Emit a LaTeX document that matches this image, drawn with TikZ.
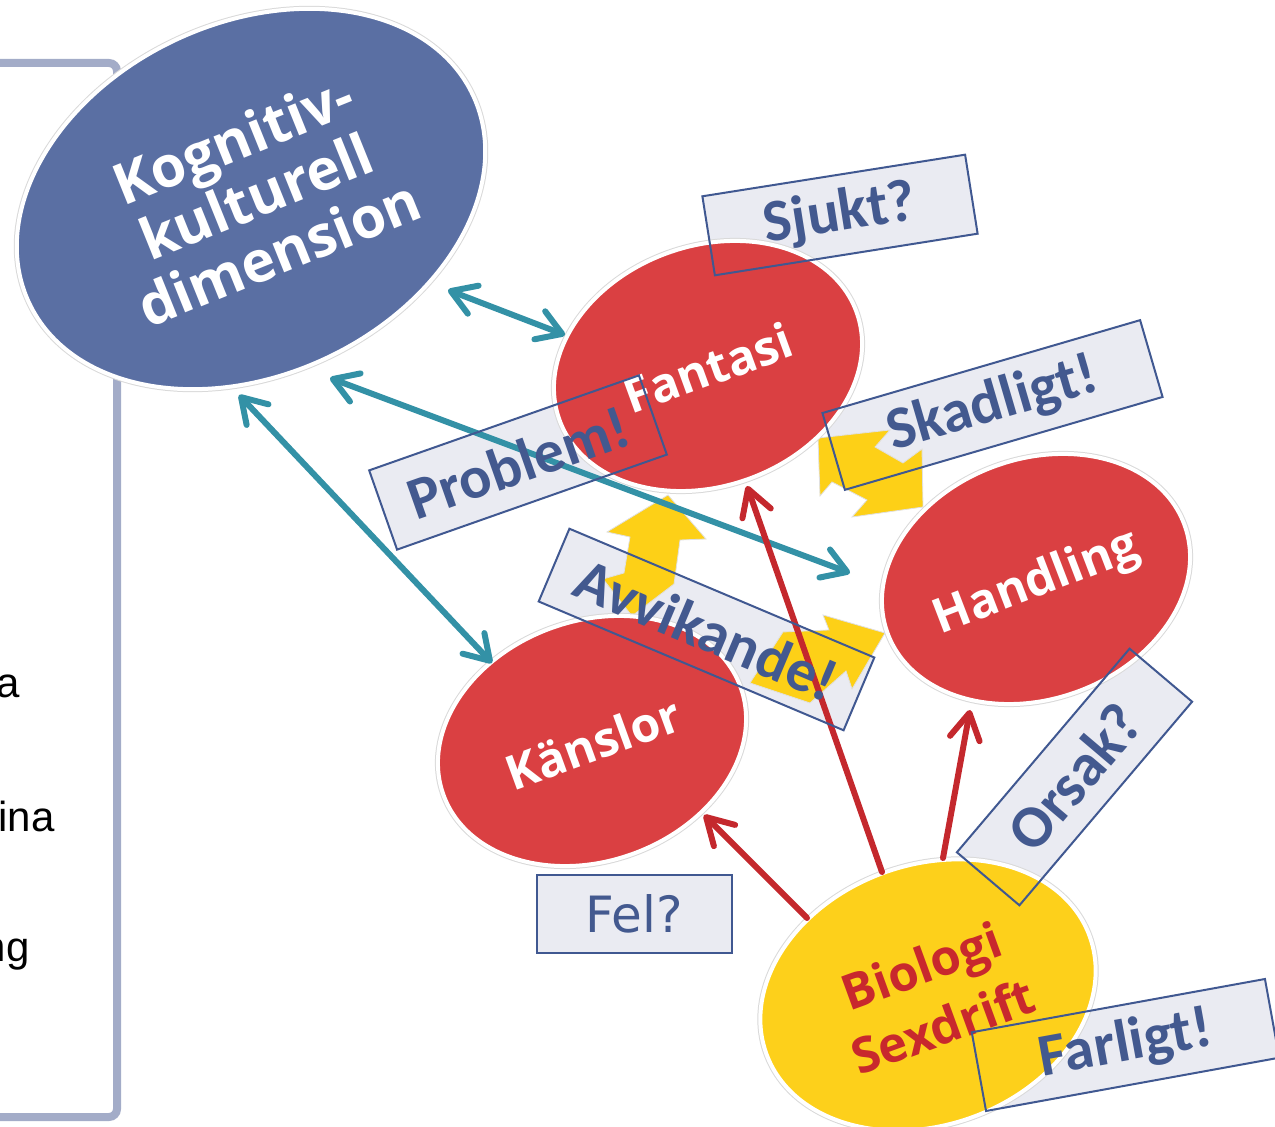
\documentclass[tikz,border=0pt]{standalone}
\usepackage{fontspec}
\usetikzlibrary{arrows.meta,shapes.geometric}
\newfontfamily\ellfont{Open Sans}
\newfontfamily\boxfont{Carlito}
\newfontfamily\felfont{DejaVu Sans}
\newfontfamily\sidefont{Liberation Sans}
\definecolor{kogblue}{HTML}{5A6FA3}
\definecolor{ellred}{HTML}{DA4042}
\definecolor{bioyellow}{HTML}{FDD01B}
\definecolor{tealc}{HTML}{3391A6}
\definecolor{arrred}{HTML}{C4282D}
\definecolor{boxfill}{HTML}{EAEBF2}
\definecolor{boxline}{HTML}{405891}
\definecolor{boxtext}{HTML}{43598F}
\definecolor{framec}{HTML}{A3ACC8}
\definecolor{biotext}{HTML}{C8282D}
\definecolor{yarr}{HTML}{FDD017}
\begin{document}
\begin{tikzpicture}[x=0.5pt,y=-0.5pt,
  ell/.style={ellipse, inner sep=0pt, draw=white, line width=2pt,
    preaction={draw=black!15, line width=3pt}},
  elltext/.style={inner sep=0pt, align=center, text=white,
    font=\ellfont\bfseries\fontsize{24}{24}\selectfont},
  boxbg/.style={rectangle, inner sep=0pt, fill=boxfill, draw=none},
  boxfg/.style={rectangle, inner sep=0pt, draw=boxline, line width=1pt, text=boxtext,
    font=\boxfont\bfseries\fontsize{30}{30}\selectfont},
  sidetext/.style={inner sep=0pt, anchor=base east, font=\sidefont\fontsize{21}{21}\selectfont},
  tealarrow/.style={draw=tealc, line width=3pt, line cap=round,
    {Straight Barb[length=12pt,width=15pt,round]}-{Straight Barb[length=12pt,width=15pt,round]}},
  redarrow/.style={draw=arrred, line width=3pt, line cap=round,
    -{Straight Barb[length=13pt,width=15pt,round]}},
  yblock/.style={fill=yarr, draw=black!12, line width=0.4pt, line join=miter}
]
\useasboundingbox (0,0) rectangle (1275,1127);
\clip (0,0) rectangle (1275,1127);

% frame on the left
\draw[draw=framec, line width=4pt, rounded corners=4pt] (-40,63) -- (117,63) -- (117,1117) -- (-40,1117);

% left text fragments
\node[sidetext] (ta) at (20,698) {a};
\node[sidetext] (tina) at (55,832) {ina};
\node[sidetext] (tng) at (30,962) {ng};

% box backgrounds
\node[boxbg, minimum width=133pt, minimum height=40pt, rotate=9] (sjuktbg) at (840,215) {};
\node[boxbg, minimum width=165.5pt, minimum height=40pt, rotate=16.3] (skadbg) at (992.5,405) {};
\node[boxbg, minimum width=143pt, minimum height=42pt, rotate=19.4] (probbg) at (518,462.5) {};
\node[boxbg, minimum width=165.5pt, minimum height=39.5pt, rotate=-22.9] (avvbg) at (706.5,629.5) {};
\node[boxbg, minimum width=133.5pt, minimum height=41pt, rotate=49.7] (orsbg) at (1074.5,777) {};
\node[boxbg, minimum width=149pt, minimum height=40pt, rotate=10.3] (farlbg) at (1125.5,1045) {};
\node[boxbg, minimum width=97.5pt, minimum height=39pt] (felbg) at (634.5,914) {};

% yellow block arrows
\path[yblock] (668,495) -- (706,539) -- (680,540) -- (674,584) -- (632,616) -- (603,579) -- (624,573) -- (630,537) -- (607,532) -- cycle;
\path[yblock] (783,632) -- (829,630) -- (823,615) -- (885,633) -- (852,689) -- (846,671) -- (810,703) -- (750,683) -- cycle;
\path[yblock] (818,438) -- (890,430) -- (875,447) -- (903,463) -- (922,449) -- (923,507) -- (852,517) -- (867,500) -- (832,482) -- (820,496) -- cycle;

% ellipses
\node[ell, fill=kogblue, minimum width=245pt, minimum height=176pt, rotate=25] (kog) at (251,199) {};
\node[ell, fill=ellred, minimum width=158pt, minimum height=120pt, rotate=20] (fan) at (708,366) {};
\node[ell, fill=ellred, minimum width=158pt, minimum height=120pt, rotate=20] (han) at (1036,579) {};
\node[ell, fill=ellred, minimum width=158pt, minimum height=120pt, rotate=20] (kan) at (592,741) {};
\node[ell, fill=bioyellow, minimum width=172pt, minimum height=130pt, rotate=20] (bio) at (928,995) {};

% ellipse texts
\node[elltext, rotate=22, font=\ellfont\bfseries\fontsize{28.5}{30.5}\selectfont] (kogt) at (256,196) {Kognitiv-\\kulturell\\dimension};
\node[elltext, rotate=20] (fant) at (708,368) {Fantasi};
\node[elltext, rotate=21] (hant) at (1037,584) {Handling};
\node[elltext, rotate=20] (kant) at (593,743) {Känslor};
\node[elltext, rotate=20, text=biotext, font=\ellfont\bfseries\fontsize{24.5}{32}\selectfont] (biot) at (932,996) {Biologi\\Sexdrift};

% connector end points
\coordinate (k1) at (448,290);
\coordinate (f1) at (565,335);
\coordinate (k2) at (330,378);
\coordinate (h2) at (850,573);
\coordinate (k3) at (239,395);
\coordinate (s3) at (492,663);
\coordinate (b1) at (807,918);
\coordinate (s1) at (704,815);
\coordinate (b2) at (882,872);
\coordinate (f2) at (747,486);
\coordinate (b3) at (943,858);
\coordinate (h3) at (970,710);

% teal double arrows
\draw[tealarrow] (k1) -- (f1);
\draw[tealarrow] (k2) -- (h2);
\draw[tealarrow] (k3) -- (s3);

% red arrows
\draw[redarrow] (b1) -- (s1);
\draw[redarrow] (b2) -- (f2);
\draw[redarrow] (b3) -- (h3);

% box outlines and labels
\node[boxfg, minimum width=133pt, minimum height=40pt, rotate=9] (sjukt) at (840,215) {Sjukt?};
\node[boxfg, minimum width=165.5pt, minimum height=40pt, rotate=16.3] (skad) at (992.5,405) {Skadligt!};
\node[boxfg, minimum width=143pt, minimum height=42pt, rotate=19.4] (prob) at (518,462.5) {Problem!};
\node[boxfg, minimum width=165.5pt, minimum height=39.5pt, rotate=-22.9] (avv) at (706.5,629.5) {Avvikande!};
\node[boxfg, minimum width=133.5pt, minimum height=41pt, rotate=49.7] (ors) at (1074.5,777) {Orsak?};
\node[boxfg, minimum width=149pt, minimum height=40pt, rotate=10.3] (farl) at (1125.5,1045) {Farligt!};
\node[boxfg, minimum width=97.5pt, minimum height=39pt, font=\felfont\fontsize{25}{25}\selectfont] (fel) at (634.5,914) {Fel?};
\end{tikzpicture}
\end{document}
